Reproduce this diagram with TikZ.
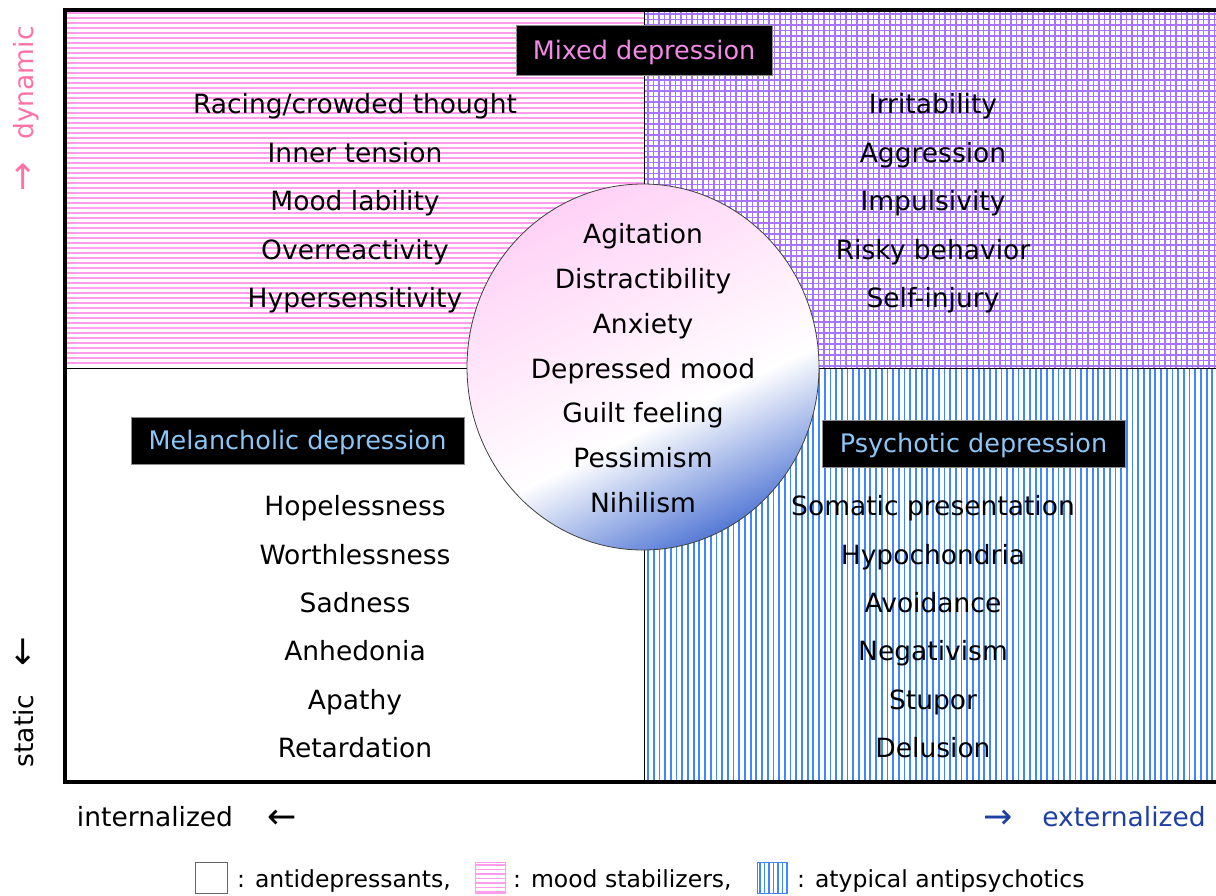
\documentclass[tikz,border=0pt]{standalone}
\usepackage{fontspec}
\setmainfont{DejaVu Sans}
\usetikzlibrary{shapes.geometric}
\definecolor{rose}{HTML}{FF9CEC}
\definecolor{lilas}{HTML}{A674FF}
\definecolor{azur}{HTML}{3F86FF}
\definecolor{titrerose}{HTML}{F28AE8}
\definecolor{titrebleu}{HTML}{8CC6F6}
\definecolor{bleuext}{HTML}{1E40A2}
\definecolor{rosedyn}{HTML}{FF72A8}
\definecolor{cercrose}{HTML}{FFD2F6}
\definecolor{cercbleu}{HTML}{587CD6}
\pgfdeclarehorizontalshading{humeur}{100bp}{color(0bp)=(cercrose); color(25bp)=(cercrose); color(44bp)=(cercrose!45!white); color(58bp)=(white); color(75bp)=(cercbleu); color(100bp)=(cercbleu)}
\tikzset{
  txt/.style={font=\fontsize{26.5}{30}\selectfont, text height=19.3pt, text depth=0pt, inner sep=0pt},
  titre/.style={font=\fontsize{25.5}{30}\selectfont, fill=black, draw=black!45, line width=0.8, inner sep=0pt, text height=18.8pt, text depth=0pt},
  leg/.style={font=\fontsize{23.5}{28}\selectfont, text height=17pt, text depth=0pt, inner sep=0pt, anchor=west},
  fl/.style={font=\fontsize{35}{35}\selectfont, text height=23.5pt, text depth=0pt, inner sep=0pt}
}
\begin{document}
\begin{tikzpicture}[x=1pt,y=-1pt]
\useasboundingbox (0,0) rectangle (1216,895);

% hachures
\foreach \y in {13,18,...,366} \draw[rose,line width=1.7] (65,\y) -- (644,\y);
\foreach \x in {648,653.5,...,1216} \draw[lilas,line width=1.6] (\x,10) -- (\x,368);
\foreach \y in {14,19.5,...,366} \draw[lilas,line width=1.6] (644,\y) -- (1216,\y);
\foreach \x in {648,653.7,...,1216} \draw[azur,line width=1.8] (\x,368) -- (\x,782);

\draw[line width=1] (644,10) -- (644,782);
\draw[line width=1] (65,368) -- (1216,368);
\draw[line width=3.5] (1216,10) -- (65,10) -- (65,782) -- (1216,782);

\node[draw=black!75, line width=0.8, ellipse, minimum width=352, minimum height=366, shading=humeur, shading angle=-64] (cercle) at (643,367) {};

\foreach \t [count=\i] in {Racing/crowded thought, Inner tension, Mood lability, Overreactivity, Hypersensitivity}
  \node[txt] (hg\i) at (355,{104+48.5*(\i-1)}) {\t};
\foreach \t [count=\i] in {Irritability, Aggression, Impulsivity, Risky behavior, Self-injury}
  \node[txt] (hd\i) at (933,{104+48.5*(\i-1)}) {\t};
\foreach \t [count=\i] in {Agitation, Distractibility, Anxiety, Depressed mood, Guilt feeling, Pessimism, Nihilism}
  \node[txt] (c\i) at (643,{234+44.8*(\i-1)}) {\t};
\foreach \t [count=\i] in {Hopelessness, Worthlessness, Sadness, Anhedonia, Apathy, Retardation}
  \node[txt] (bg\i) at (355,{506+48.4*(\i-1)}) {\t};
\foreach \t [count=\i] in {Somatic presentation, Hypochondria, Avoidance, Negativism, Stupor, Delusion}
  \node[txt] (bd\i) at (933,{506+48.4*(\i-1)}) {\t};

\node[titre, text=titrerose, minimum width=256, minimum height=50] (mixte) at (644,50) {Mixed depression};
\node[titre, text=titrebleu, minimum width=333, minimum height=47] (melan) at (297.5,440.5) {Melancholic depression};
\node[titre, text=titrebleu, minimum width=303, minimum height=47] (psych) at (973.5,443.5) {Psychotic depression};

% axes
\node[txt, rotate=90, text=rosedyn] (dyn) at (23.5,83) {dynamic};
\node[fl, text=rosedyn] (dynfl) at (23,178) {↑};
\node[txt, rotate=90] (stat) at (23.5,731) {static};
\node[fl] (statfl) at (23,653) {↓};
\node[txt] (inter) at (155,817) {internalized};
\node[fl] (interfl) at (282,817) {←};
\node[fl, text=bleuext] (extfl) at (998,817) {→};
\node[txt, text=bleuext] (ext) at (1124,817) {externalized};

% legende
\draw[black!60] (195,862) rectangle (227,893);
\foreach \y in {865,869.5,...,892} \draw[rose,line width=1.2] (475,\y) -- (505,\y);
\draw[rose,line width=1] (475,862) rectangle (505,893);
\foreach \x in {760,764.5,...,787} \draw[azur,line width=1.2] (\x,862) -- (\x,893);
\draw[azur,line width=1] (757,862) rectangle (787,893);
\node[leg] (l1) at (237,879) {: antidepressants,};
\node[leg] (l2) at (513,879) {: mood stabilizers,};
\node[leg] (l3) at (797,879) {: atypical antipsychotics};
\end{tikzpicture}
\end{document}
